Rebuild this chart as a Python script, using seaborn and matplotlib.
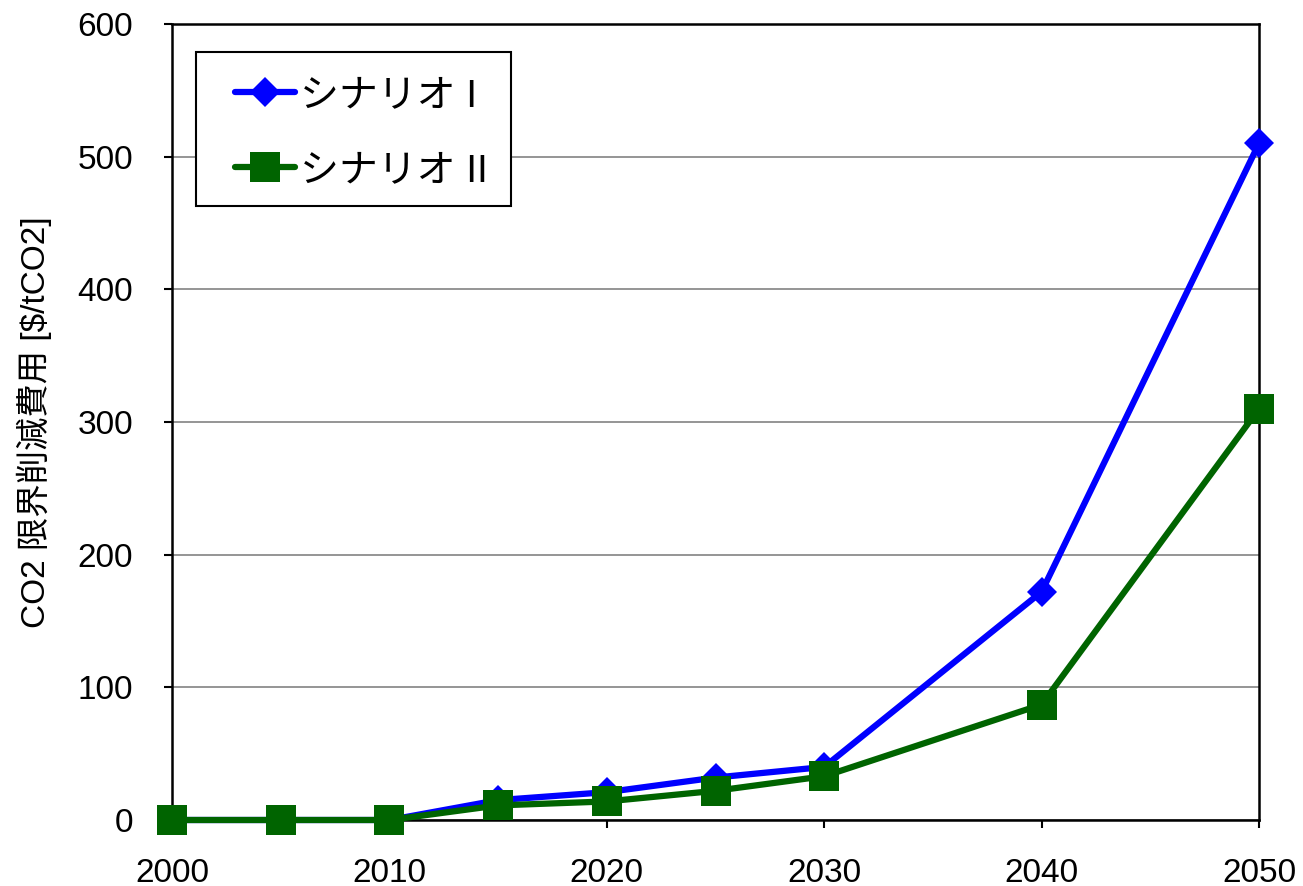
import matplotlib
matplotlib.use("Agg")
import matplotlib.pyplot as plt
import matplotlib.colors as mcolors
import seaborn as sns
import pandas as pd
from matplotlib.lines import Line2D
from matplotlib.patches import Rectangle

# Marginal CO2 abatement cost by year for two scenarios
years = [2000, 2005, 2010, 2015, 2020, 2025, 2030, 2040, 2050]
scenario_1 = [0, 0, 0, 15, 21, 32, 40, 172, 510]
scenario_2 = [0, 0, 0, 11, 14, 22, 33, 87, 310]
series_names = ["シナリオ I", "シナリオ II"]
x_ticks = [2000, 2010, 2020, 2030, 2040, 2050]
y_ticks = [0, 100, 200, 300, 400, 500, 600]

df = pd.DataFrame({
    "year": years * 2,
    "cost": scenario_1 + scenario_2,
    "scenario": [series_names[0]] * len(years) + [series_names[1]] * len(years),
})

sns.set_theme(style="white")
plt.rcParams["font.family"] = ["Liberation Sans", "Noto Sans CJK JP"]

colors = {series_names[0]: "#0000FF", series_names[1]: "#006400"}
markers = {series_names[0]: "D", series_names[1]: "s"}
msizes = {series_names[0]: 15.5, series_names[1]: 21}
LW = 4.5

W, H = 1303, 886
fig = plt.figure(figsize=(W / 100, H / 100), dpi=100)
ax = fig.add_axes([172 / W, 1 - 820 / H, (1259 - 172) / W, (820 - 24) / H])

sns.lineplot(data=df, x="year", y="cost", hue="scenario", style="scenario",
             palette=colors, markers=markers, dashes=False, linewidth=LW,
             markeredgewidth=0, legend=False, ax=ax, clip_on=False, zorder=3)
for line in ax.lines:
    c = mcolors.to_hex(line.get_color()).lower()
    for name in series_names:
        if colors[name].lower() == c:
            line.set_markersize(msizes[name])

ax.set_xlim(2000, 2050)
ax.set_ylim(0, 600)
ax.set_xticks(x_ticks)
ax.set_yticks(y_ticks)
ax.tick_params(axis="both", direction="out", length=6, width=1.5, colors="black",
               labelsize=24, bottom=True, left=True)
ax.tick_params(axis="x", pad=21)
ax.tick_params(axis="y", pad=22)
ax.yaxis.grid(True, color="#8c8c8c", linewidth=1.3)
ax.set_axisbelow(True)
for sp in ax.spines.values():
    sp.set_color("black")
    sp.set_linewidth(1.8)

ax.set_xlabel("")
ax.set_ylabel("CO2 限界削減費用 [$/tCO2]", fontsize=24, labelpad=18, color="black")

# legend box drawn as a plain rectangle, entries placed inside it
fig.patches.append(Rectangle((196 / W, 1 - 206 / H), (511 - 196) / W, (206 - 52) / H,
                             transform=fig.transFigure, facecolor="white",
                             edgecolor="black", linewidth=1.5, zorder=4))
handles = [
    Line2D([], [], color=colors[n], marker=markers[n], markersize=msizes[n],
           markeredgewidth=0, linewidth=LW, label=n)
    for n in series_names
]
leg = fig.legend(handles=handles, loc="upper left",
                 bbox_to_anchor=(235 / W, 1 - 78 / H), bbox_transform=fig.transFigure,
                 fontsize=28, frameon=False, handlelength=1.55, handletextpad=0.12,
                 labelspacing=1.0, borderpad=0, borderaxespad=0)
leg.set_zorder(5)
for t in leg.get_texts():
    t.set_color("black")

fig.savefig("out.png", dpi=100, facecolor="white")
